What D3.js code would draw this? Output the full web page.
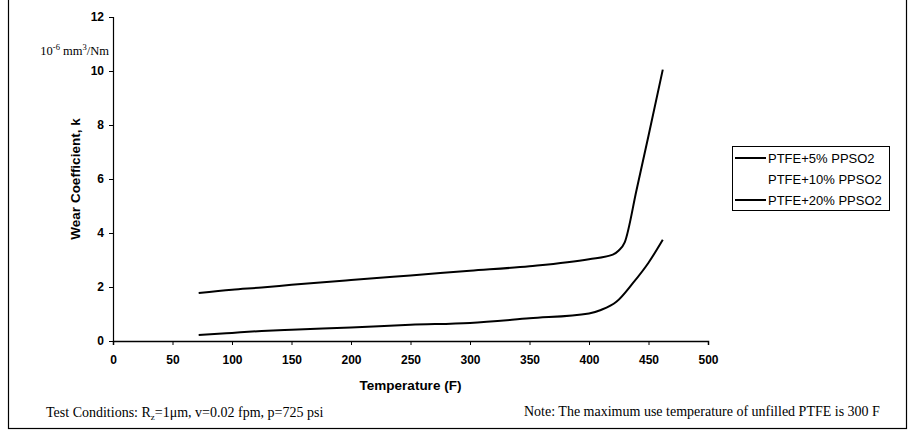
<!DOCTYPE html>
<html>
<head>
<meta charset="utf-8">
<script src="https://cdn.jsdelivr.net/npm/d3@7"></script>
<style>
  body { margin: 0; background: #fff; }
  svg { display: block; }
  .tick text { font-family: "Liberation Sans", Arial, sans-serif; font-size: 12px; font-weight: bold; }
</style>
</head>
<body>
<div id="chart"></div>
<script>
// temperatures (F) and wear coefficient k (10^-6 mm^3/Nm)
var temp5  = [72, 100, 125, 150, 200, 250, 300, 350, 400, 420, 425, 430, 440, 450, 462];
var wear5  = [1.78, 1.9, 1.98, 2.08, 2.26, 2.43, 2.6, 2.77, 3.03, 3.2, 3.35, 3.65, 5.6, 7.6, 10.05];
var temp10 = [];
var wear10 = [];
var temp20 = [72, 100, 125, 150, 200, 250, 300, 350, 400, 410, 423, 437, 450, 462];
var wear20 = [0.22, 0.3, 0.37, 0.42, 0.5, 0.6, 0.67, 0.84, 1.02, 1.15, 1.45, 2.15, 2.9, 3.75];
var seriesNames = ["PTFE+5% PPSO2", "PTFE+10% PPSO2", "PTFE+20% PPSO2"];
var xTicks = [0, 50, 100, 150, 200, 250, 300, 350, 400, 450, 500];
var yTicks = [0, 2, 4, 6, 8, 10, 12];

var width = 910, height = 436;
var svg = d3.select("#chart").append("svg").attr("width", width).attr("height", height);

// outer frame (top edge is cut off in the original)
svg.append("rect").attr("x", 8.5).attr("y", -2).attr("width", 898).attr("height", 430.5)
   .attr("fill", "none").attr("stroke", "#000").attr("stroke-width", 1.2);

var x = d3.scaleLinear().domain([0, 500]).range([113, 708]);
var y = d3.scaleLinear().domain([0, 12]).range([341, 17]);

svg.append("g").attr("transform", "translate(0," + y(0) + ")")
   .call(d3.axisBottom(x).tickValues(xTicks).tickSize(4).tickPadding(10))
   .call(function (g) { g.select(".domain").attr("stroke-width", 1.5); });

svg.append("g").attr("transform", "translate(" + x(0) + ",0)")
   .call(d3.axisLeft(y).tickValues(yTicks).tickSize(4).tickPadding(5))
   .call(function (g) { g.select(".domain").attr("stroke-width", 1.2); });

var line = d3.line().x(function (d) { return x(d[0]); }).y(function (d) { return y(d[1]); })
   .curve(d3.curveMonotoneX);

var series = [
  { t: temp5, k: wear5, color: "#000" },
  { t: temp10, k: wear10, color: "#fff" },
  { t: temp20, k: wear20, color: "#000" }
];
series.forEach(function (s) {
  if (!s.t.length) return;
  svg.append("path").datum(d3.zip(s.t, s.k)).attr("d", line)
     .attr("fill", "none").attr("stroke", s.color).attr("stroke-width", 2);
});

// axis titles
svg.append("text").attr("x", (x(0) + x(500)) / 2).attr("y", 390).attr("text-anchor", "middle")
   .style("font-family", "Liberation Sans, Arial, sans-serif").style("font-size", "13.5px").style("font-weight", "bold")
   .text("Temperature (F)");
svg.append("text").attr("transform", "translate(80," + ((y(0) + y(12)) / 2) + ") rotate(-90)")
   .attr("text-anchor", "middle")
   .style("font-family", "Liberation Sans, Arial, sans-serif").style("font-size", "13.5px").style("font-weight", "bold")
   .text("Wear Coefficient, k");

var unit = svg.append("text").attr("x", 109).attr("y", 55).attr("text-anchor", "end")
   .style("font-family", "Liberation Serif, Times New Roman, serif").style("font-size", "12.5px");
unit.append("tspan").text("10");
unit.append("tspan").attr("dy", -5).style("font-size", "8.5px").text("-6");
unit.append("tspan").attr("dy", 5).text(" mm");
unit.append("tspan").attr("dy", -5).style("font-size", "8.5px").text("3");
unit.append("tspan").attr("dy", 5).text("/Nm");

// legend
var lg = svg.append("g").attr("transform", "translate(732,146)");
lg.append("rect").attr("x", 0.5).attr("y", 0.5).attr("width", 157).attr("height", 64)
  .attr("fill", "#fff").attr("stroke", "#000").attr("stroke-width", 1);
seriesNames.forEach(function (name, i) {
  var row = lg.append("g").attr("transform", "translate(0," + (12 + i * 21) + ")");
  row.append("line").attr("x1", 3).attr("x2", 34).attr("y1", 0).attr("y2", 0)
     .attr("stroke", series[i].color).attr("stroke-width", 2);
  row.append("text").attr("x", 36).attr("y", 4.5)
     .style("font-family", "Liberation Sans, Arial, sans-serif").style("font-size", "13px")
     .text(name);
});

// notes under the chart
var cond = svg.append("text").attr("x", 46).attr("y", 417)
   .style("font-family", "Liberation Serif, Times New Roman, serif").style("font-size", "14px");
cond.append("tspan").text("Test Conditions: R");
cond.append("tspan").attr("dy", 3).style("font-size", "9px").text("z");
cond.append("tspan").attr("dy", -3).text("=1\u03bcm, v=0.02 fpm, p=725 psi");
svg.append("text").attr("x", 524).attr("y", 416)
   .style("font-family", "Liberation Serif, Times New Roman, serif").style("font-size", "14px")
   .text("Note: The maximum use temperature of unfilled PTFE is  300 F");
</script>
</body>
</html>
